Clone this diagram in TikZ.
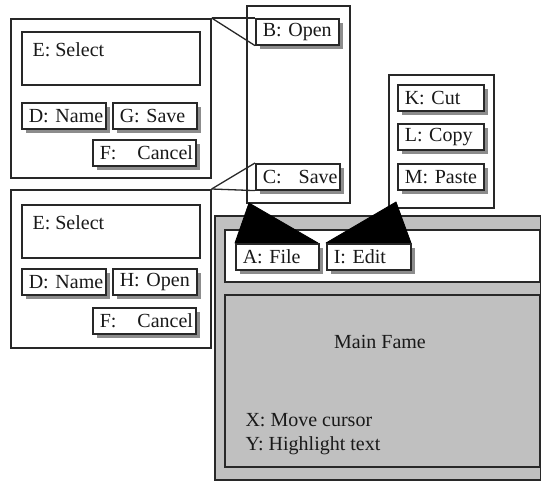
\documentclass[tikz,border=0pt]{standalone}
\usepackage{fontspec}
\setmainfont{Liberation Serif}
\usetikzlibrary{shadows}
\definecolor{panelgray}{RGB}{192,192,192}
\definecolor{shadowgray}{RGB}{140,140,140}
\definecolor{edgecol}{RGB}{40,40,40}
\begin{document}
\begin{tikzpicture}[x=1pt,y=-1pt,
  every node/.style={font=\fontsize{20}{24}\selectfont, text=black!90},
  frame/.style={draw=edgecol, line width=1.6pt},
  box/.style={frame, anchor=north west, inner sep=0pt},
  btn/.style={frame, fill=white, anchor=north west, inner xsep=7pt, inner ysep=0pt,
    minimum height=26pt, align=left, text width=#1,
    drop shadow={shadow xshift=4pt, shadow yshift=-4pt, fill=shadowgray, opacity=1}},
  callout/.style={draw=edgecol, line width=1.3pt},
  tab/.style={fill=black, draw=black, line width=0.8pt, line join=round}
]
\useasboundingbox (0,0) rectangle (541,481);

% ---------- File menu ----------
\node[box, fill=white, minimum width=103pt, minimum height=197pt] (filemenu) at (246,5) {};
\node[btn=69pt] (bopen) at (255,18) {\mbox{B: Open}};
\node[btn=70pt] (csave) at (255,163) {\mbox{C:\hspace{17pt}Save}};

% ---------- Edit menu ----------
\node[box, fill=white, minimum width=105pt, minimum height=133pt] (editmenu) at (388,74) {};
\node[btn=72pt] (kcut) at (397,84) {\mbox{K: Cut}};
\node[btn=72pt] (lcopy) at (397,123) {\mbox{L: Copy}};
\node[btn=72pt] (mpaste) at (397,163) {\mbox{M: Paste}};

% ---------- Save dialog ----------
\node[box, fill=white, minimum width=200pt, minimum height=159pt] (d1) at (10,18) {};
\node[box, fill=white, minimum width=178pt, minimum height=53pt] (e1) at (21,31) {};
\node[anchor=base west] (e1t) at (29,57) {E: Select};
\node[btn=70pt] (d1name) at (21,102) {\mbox{D: Name}};
\node[btn=70pt] (gsave) at (112,102) {\mbox{G: Save}};
\node[btn=89pt] (f1cancel) at (92,139) {\mbox{F:\hspace{21pt}Cancel}};

% ---------- Open dialog ----------
\node[box, fill=white, minimum width=200pt, minimum height=158pt] (d2) at (10,189) {};
\node[box, fill=white, minimum width=178pt, minimum height=53pt] (e2) at (21,204) {};
\node[anchor=base west] (e2t) at (29,230) {E: Select};
\node[btn=70pt] (d2name) at (21,268) {\mbox{D: Name}};
\node[btn=70pt] (hopen) at (112,268) {\mbox{H: Open}};
\node[btn=89pt] (f2cancel) at (92,307) {\mbox{F:\hspace{21pt}Cancel}};

% ---------- callouts from dialogs to menu items ----------
\draw[callout] (d1.north east) -- (bopen.north west);
\draw[callout] (d1.north east) -- (bopen.south west);
\draw[callout] (d2.north east) -- (csave.north west);
\draw[callout] (d2.north east) -- (csave.south west);

% ---------- Main frame ----------
\node[box, fill=panelgray, minimum width=326pt, minimum height=264pt] (main) at (214,215) {};
\node[box, fill=white, minimum width=315pt, minimum height=52pt] (menubar) at (224,229) {};
\node[box, fill=panelgray, minimum width=315pt, minimum height=172pt] (content) at (224,294) {};
\node[anchor=base] (mftitle) at (380,348) {Main Fame};
\node[anchor=base west] (xmove) at (242,426) {X: Move cursor};
\node[anchor=base west] (yhigh) at (242,450) {Y: Highlight text};

% ---------- menu tabs (black callouts) ----------
\coordinate (fileapex) at (249,203);
\coordinate (editapex) at (396,202);
\coordinate (afileL) at (235,243);
\coordinate (afileR) at (318,243);
\coordinate (ieditL) at (326,243);
\coordinate (ieditR) at (411,243);
\filldraw[tab] (fileapex) -- (afileL) -- (afileR) -- cycle;
\filldraw[tab] (editapex) -- (ieditL) -- (ieditR) -- cycle;

\node[btn=69pt] (afile) at (235,243) {\mbox{A: File}};
\node[btn=70pt] (iedit) at (326,243) {\mbox{I: Edit}};
\end{tikzpicture}
\end{document}
